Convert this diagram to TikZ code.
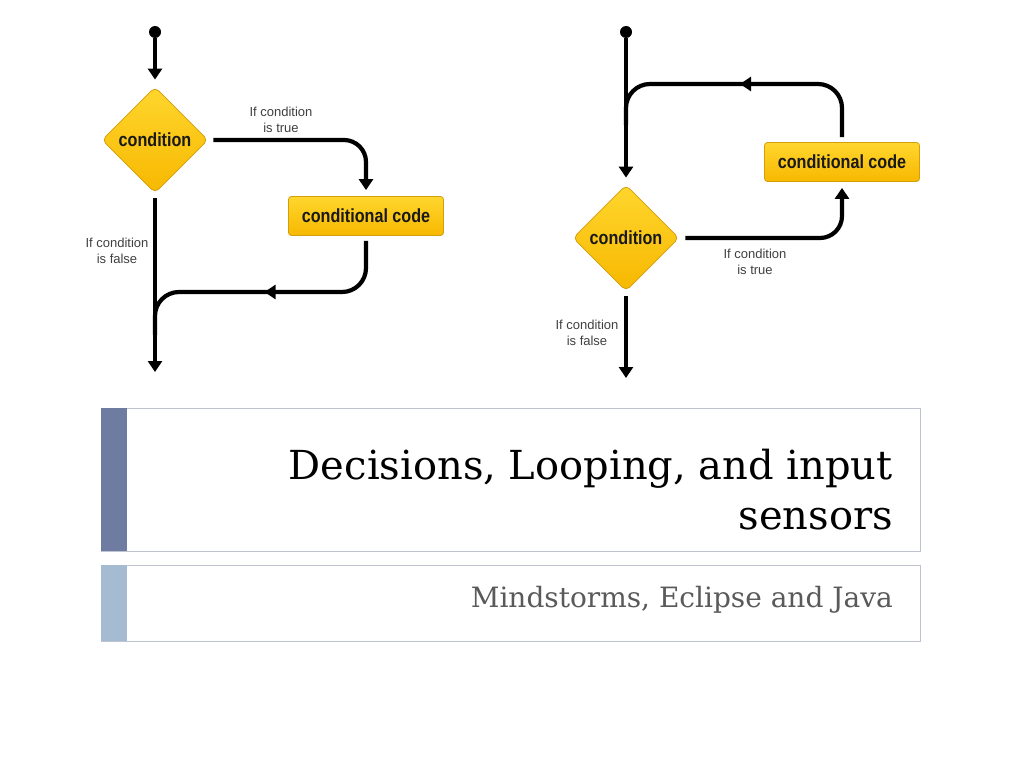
\documentclass[tikz,border=0pt]{standalone}
\usepackage{fontspec}
\newfontfamily\flowfont[FakeStretch=0.85]{Liberation Sans}
\newfontfamily\lblfont{Liberation Sans}
\newfontfamily\slidefont{DejaVu Serif}
\usepackage{tikz}
\usetikzlibrary{positioning,arrows.meta,shapes.geometric,decorations.markings}
\definecolor{flowtop}{HTML}{FFD62E}
\definecolor{flowbot}{HTML}{F7B800}
\definecolor{flowedge}{HTML}{D29E0A}
\definecolor{barA}{HTML}{6F7CA2}
\definecolor{barB}{HTML}{A4BBD2}
\definecolor{boxedge}{HTML}{BFC3D0}
\definecolor{subgray}{HTML}{5A5A5A}
\tikzset{
  decbox/.style={diamond, draw=flowedge, line width=0.8pt, rounded corners=5pt,
    top color=flowtop, bottom color=flowbot, minimum width=106pt,
    minimum height=106pt, inner sep=0pt, text=black!90,
    font=\flowfont\bfseries\fontsize{19}{19}\selectfont},
  codebox/.style={rectangle, draw=flowedge, line width=0.8pt, rounded corners=3pt,
    top color=flowtop, bottom color=flowbot, minimum width=155pt,
    minimum height=39pt, inner sep=0pt, text=black!90,
    font=\flowfont\bfseries\fontsize{19}{19}\selectfont},
  flowarr/.style={-{Triangle[length=11pt,width=14pt]}, line width=4.2pt},
  flowline/.style={line width=4.2pt},
  midarr/.style={postaction={decorate}, decoration={markings,
    mark=at position #1 with {\arrow{Triangle[length=11pt,width=14pt]}}}},
  flowlbl/.style={font=\lblfont\fontsize{13}{15.5}\selectfont, text=black!75,
    align=center},
  startdot/.style={circle, fill=black, inner sep=0pt, minimum size=12pt},
}
\begin{document}
\begin{tikzpicture}[x=1pt, y=-1pt]
  \useasboundingbox[fill=white] (0,0) rectangle (1024,768);

  % ---- if: left chart ----
  \node[startdot] at (155,32)  (s1) {};
  \node[decbox]   at (155,140) (c1) {condition};
  \node[codebox]  at (366,216) (k1) {conditional code};
  \coordinate (e1)  at (155,372);
  \coordinate (j1)  at (155,292);
  \coordinate (j1b) at (155,335);
  \node[flowlbl] at (281,120) (t1) {If condition\\is true};
  \node[flowlbl] at (117,251) (f1) {If condition\\is false};

  \draw[flowarr, shorten >=7pt] (s1) -- (c1);
  \draw[flowarr, rounded corners=22pt, shorten <=5pt, shorten >=6pt] (c1.east) -| (k1.north);
  \draw[flowarr, shorten <=5pt] (c1.south) -- (e1);
  \draw[flowline, rounded corners=24pt, midarr=0.5] ([yshift=-5pt]k1.south) |- (j1) -- (j1b);

  % ---- while: right chart ----
  \node[startdot] at (626,32)  (s2) {};
  \node[decbox]   at (626,238) (c2) {condition};
  \node[codebox]  at (842,162) (k2) {conditional code};
  \coordinate (e2)  at (626,378);
  \coordinate (j2)  at (626,84);
  \coordinate (j2b) at (626,125);
  \node[flowlbl] at (755,262) (t2) {If condition\\is true};
  \node[flowlbl] at (587,333) (f2) {If condition\\is false};

  \draw[flowarr, shorten >=7pt] (s2) -- (c2);
  \draw[flowline, rounded corners=24pt, midarr=0.5] ([yshift=5pt]k2.north) |- (j2) -- (j2b);
  \draw[flowarr, rounded corners=22pt, shorten <=6pt, shorten >=6pt] (c2.east) -| (k2.south);
  \draw[flowarr, shorten <=5pt] (c2.south) -- (e2);

  % ---- title boxes ----
  \draw[boxedge, line width=1pt] (101,408) rectangle (920,551);
  \fill[barA] (101,408) rectangle (127,551);
  \draw[boxedge, line width=1pt] (101,565) rectangle (920,641);
  \fill[barB] (101,565) rectangle (127,641);
  \node[anchor=base east, inner sep=0pt, align=right,
    font=\slidefont\fontsize{40}{50}\selectfont] at (893,529) (title)
    {Decisions, Looping, and input\\sensors};
  \node[anchor=base east, inner sep=0pt, text=subgray,
    font=\slidefont\fontsize{28}{30}\selectfont] at (893,607) (sub)
    {Mindstorms, Eclipse and Java};
\end{tikzpicture}
\end{document}
